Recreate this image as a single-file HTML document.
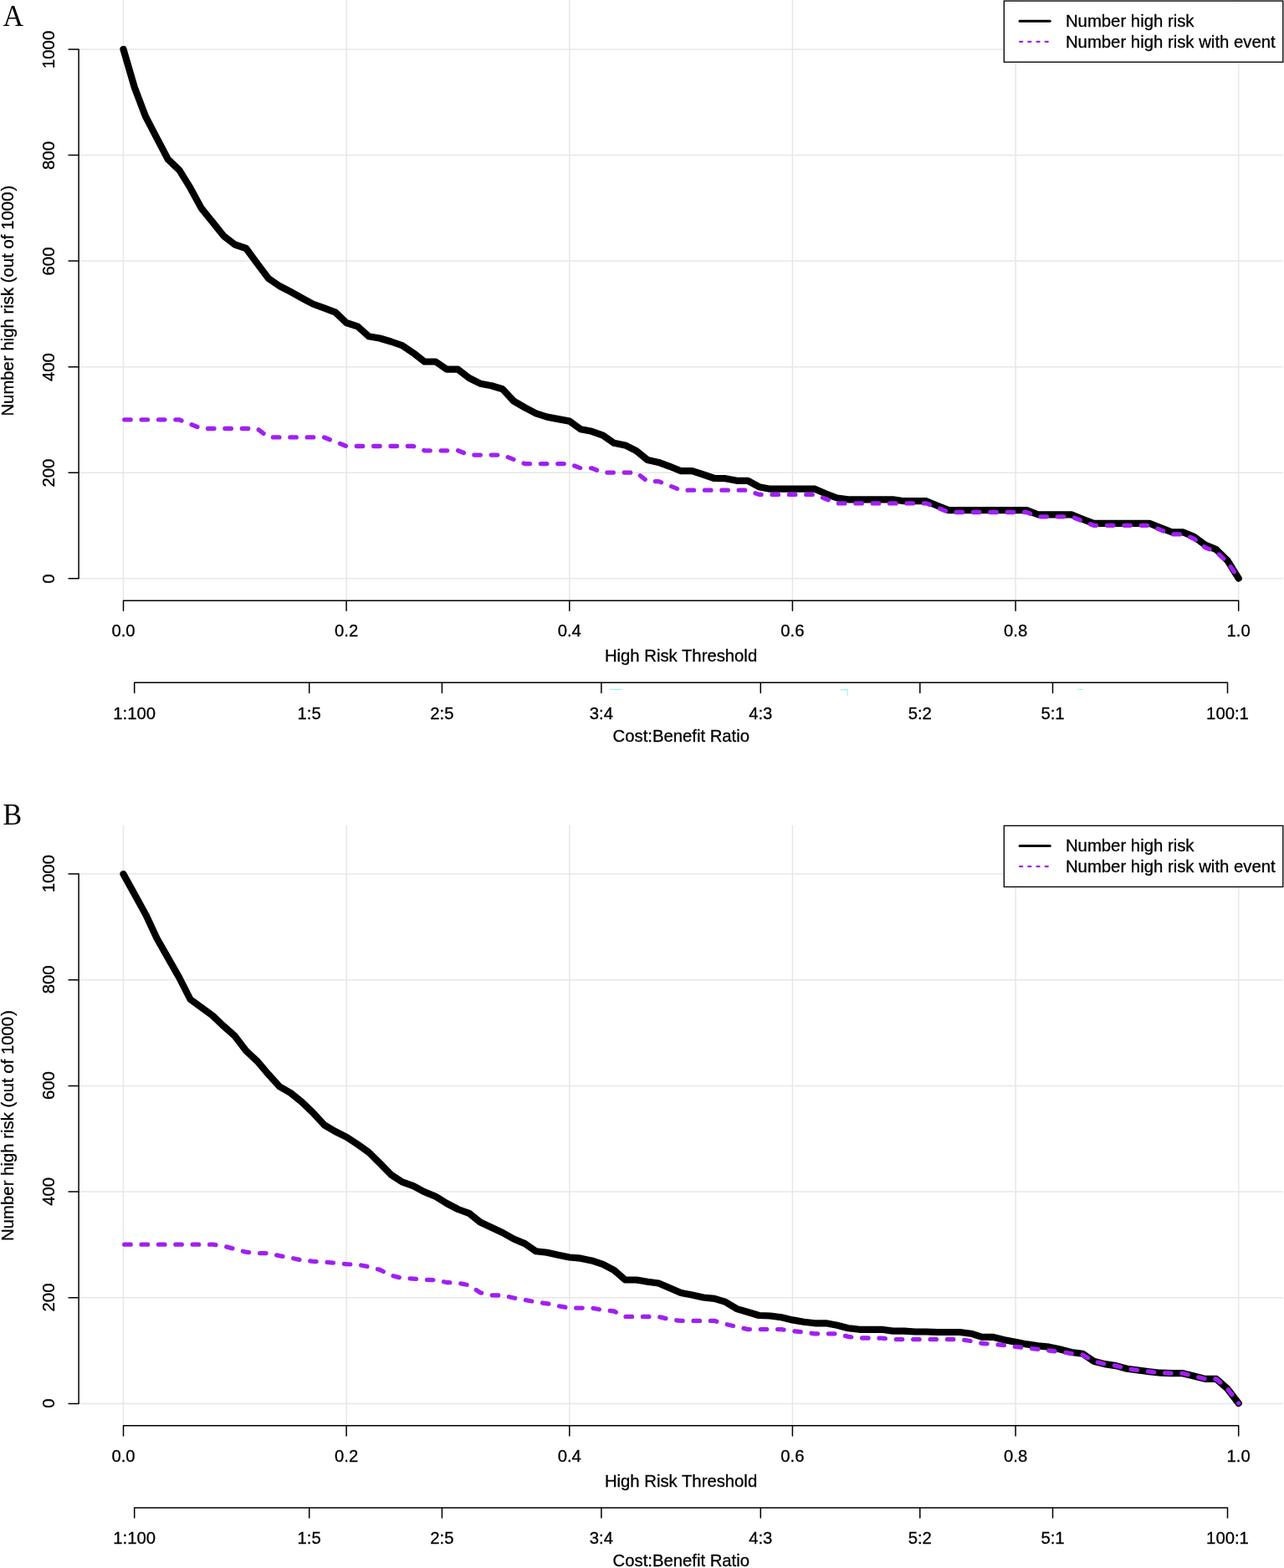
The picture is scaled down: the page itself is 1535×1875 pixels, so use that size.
<!DOCTYPE html>
<html lang="en">
<head>
<meta charset="utf-8">
<title>Clinical impact curves</title>
<style>
html,body{margin:0;padding:0;background:#fff;}
body{width:1535px;height:1875px;overflow:hidden;}
svg{display:block;}
.t{font-size:20.3px;}
.t text{font-family:"Liberation Sans",Arial,Helvetica,sans-serif;fill:#000;stroke:#000;stroke-width:0.3px;}
.p text{font-family:"Liberation Serif","Times New Roman",Times,serif;font-size:34px;fill:#000;}
</style>
</head>
<body>
<svg width="1535" height="1875" viewBox="0 0 1535 1875" role="img" aria-label="Clinical impact curves, panels A and B">
<rect width="1535" height="1875" fill="#fff"/>
<g stroke="#e7e7e7" stroke-width="1.5" fill="none"><line x1="147.5" y1="0.0" x2="147.5" y2="717.6"/><line x1="414.1" y1="0.0" x2="414.1" y2="717.6"/><line x1="680.8" y1="0.0" x2="680.8" y2="717.6"/><line x1="947.4" y1="0.0" x2="947.4" y2="717.6"/><line x1="1214.1" y1="0.0" x2="1214.1" y2="717.6"/><line x1="1480.7" y1="0.0" x2="1480.7" y2="717.6"/><line x1="94.2" y1="691.8" x2="1534" y2="691.8"/><line x1="94.2" y1="565.2" x2="1534" y2="565.2"/><line x1="94.2" y1="438.7" x2="1534" y2="438.7"/><line x1="94.2" y1="312.1" x2="1534" y2="312.1"/><line x1="94.2" y1="185.6" x2="1534" y2="185.6"/><line x1="94.2" y1="59.0" x2="1534" y2="59.0"/></g>
<polyline points="147.5,59.0 160.8,104.5 174.2,139.7 187.5,165.1 200.8,190.5 214.2,203.2 227.5,224.7 240.8,249.1 254.2,265.7 267.5,282.3 280.8,292.5 294.2,297.0 307.5,315.2 320.8,332.8 334.1,342.0 347.5,348.9 360.8,356.3 374.1,363.5 387.5,368.4 400.8,373.3 414.1,386.0 427.5,390.3 440.8,402.2 454.1,404.5 467.5,408.5 480.8,413.1 494.1,422.1 507.5,432.5 520.8,432.5 534.1,441.7 547.5,441.7 560.8,452.0 574.1,458.7 587.5,461.3 600.8,465.3 614.1,479.6 627.5,487.4 640.8,494.3 654.1,498.6 667.4,501.1 680.8,503.6 694.1,513.2 707.4,515.8 720.8,520.6 734.1,529.8 747.4,532.4 760.8,539.2 774.1,550.0 787.4,552.9 800.8,557.8 814.1,563.2 827.4,563.2 840.8,567.5 854.1,572.0 867.4,572.2 880.8,574.8 894.1,574.8 907.4,582.2 920.8,584.7 934.1,584.7 947.4,584.7 960.8,584.7 974.1,584.7 987.4,590.6 1000.7,595.5 1014.1,597.3 1027.4,597.3 1040.7,597.3 1054.1,597.3 1067.4,597.3 1080.7,599.2 1094.1,599.2 1107.4,599.2 1120.7,604.7 1134.1,610.1 1147.4,610.1 1160.7,610.1 1174.1,610.1 1187.4,610.1 1200.7,610.1 1214.1,610.1 1227.4,610.1 1240.7,615.3 1254.1,615.3 1267.4,615.3 1280.7,615.3 1294.1,620.7 1307.4,625.8 1320.7,625.8 1334.0,625.8 1347.4,625.8 1360.7,625.8 1374.0,625.8 1387.4,631.1 1400.7,636.3 1414.0,636.3 1427.4,641.8 1440.7,651.6 1454.0,657.1 1467.4,670.2 1480.7,691.6" fill="none" stroke="#000" stroke-width="8.2" stroke-linecap="round" stroke-linejoin="round"/>
<polyline points="147.5,501.8 160.8,501.8 174.2,501.8 187.5,501.8 200.8,501.8 214.2,501.8 227.5,507.1 240.8,512.5 254.2,512.5 267.5,512.5 280.8,512.5 294.2,512.5 307.5,512.5 320.8,522.9 334.1,522.9 347.5,522.9 360.8,522.9 374.1,522.9 387.5,522.9 400.8,528.3 414.1,533.5 427.5,533.5 440.8,533.5 454.1,533.5 467.5,533.5 480.8,533.5 494.1,533.5 507.5,538.8 520.8,538.8 534.1,538.8 547.5,538.8 560.8,544.1 574.1,544.1 587.5,544.1 600.8,544.1 614.1,549.4 627.5,554.6 640.8,554.6 654.1,554.6 667.4,554.6 680.8,554.6 694.1,559.8 707.4,559.8 720.8,565.1 734.1,565.1 747.4,565.1 760.8,565.1 774.1,575.6 787.4,575.6 800.8,580.9 814.1,586.2 827.4,586.2 840.8,586.2 854.1,586.2 867.4,586.2 880.8,586.2 894.1,586.2 907.4,591.4 920.8,591.4 934.1,591.4 947.4,591.4 960.8,591.4 974.1,591.4 987.4,596.7 1000.7,601.9 1014.1,601.9 1027.4,601.9 1040.7,601.9 1054.1,601.9 1067.4,601.9 1080.7,601.9 1094.1,601.9 1107.4,601.9 1120.7,607.2 1134.1,612.5 1147.4,612.5 1160.7,612.5 1174.1,612.5 1187.4,612.5 1200.7,612.5 1214.1,612.5 1227.4,612.5 1240.7,617.8 1254.1,617.8 1267.4,617.8 1280.7,617.8 1294.1,623.1 1307.4,628.3 1320.7,628.3 1334.0,628.3 1347.4,628.3 1360.7,628.3 1374.0,628.3 1387.4,633.6 1400.7,638.9 1414.0,638.9 1427.4,644.2 1440.7,654.7 1454.0,660.0 1467.4,672.0 1480.7,691.6" fill="none" stroke="#a020f0" stroke-width="5.3" stroke-linecap="round" stroke-linejoin="round" stroke-dasharray="7.4 12.975" stroke-dashoffset="-1.25"/>
<g stroke="#000" stroke-width="1.5" fill="none" stroke-linecap="round" stroke-linejoin="round"><path d="M82.1,59.0H94.1V691.8H82.1"/><path d="M82.1,565.2H94.1"/><path d="M82.1,438.7H94.1"/><path d="M82.1,312.1H94.1"/><path d="M82.1,185.6H94.1"/><path d="M147.5,730.3V718.2H1480.7V730.3M414.1,718.2v12.1M680.8,718.2v12.1M947.4,718.2v12.1M1214.1,718.2v12.1"/><path d="M160.7,828.4V816.3H1467.5V828.4M369.7,816.3v12.1M528.4,816.3v12.1M718.9,816.3v12.1M909.3,816.3v12.1M1099.8,816.3v12.1M1258.5,816.3v12.1"/></g>
<g class="t"><text x="147.5" y="761.4" text-anchor="middle">0.0</text><text x="414.1" y="761.4" text-anchor="middle">0.2</text><text x="680.8" y="761.4" text-anchor="middle">0.4</text><text x="947.4" y="761.4" text-anchor="middle">0.6</text><text x="1214.1" y="761.4" text-anchor="middle">0.8</text><text x="1480.7" y="761.4" text-anchor="middle">1.0</text><text x="814.05" y="791.0" text-anchor="middle">High Risk Threshold</text><text x="160.7" y="859.9" text-anchor="middle">1:100</text><text x="369.7" y="859.9" text-anchor="middle">1:5</text><text x="528.4" y="859.9" text-anchor="middle">2:5</text><text x="718.9" y="859.9" text-anchor="middle">3:4</text><text x="909.3" y="859.9" text-anchor="middle">4:3</text><text x="1099.8" y="859.9" text-anchor="middle">5:2</text><text x="1258.5" y="859.9" text-anchor="middle">5:1</text><text x="1467.5" y="859.9" text-anchor="middle">100:1</text><text x="814.3" y="887.0" text-anchor="middle">Cost:Benefit Ratio</text><text transform="translate(64.8,692.2) rotate(-90)" text-anchor="middle">0</text><text transform="translate(64.8,565.6) rotate(-90)" text-anchor="middle">200</text><text transform="translate(64.8,439.1) rotate(-90)" text-anchor="middle">400</text><text transform="translate(64.8,312.5) rotate(-90)" text-anchor="middle">600</text><text transform="translate(64.8,186.0) rotate(-90)" text-anchor="middle">800</text><text transform="translate(64.8,59.4) rotate(-90)" text-anchor="middle">1000</text><text transform="translate(16.1,497.6) rotate(-90)" style="letter-spacing:0.03px">Number high risk (out of 1000<tspan dx="1">)</tspan></text></g>
<rect x="1200.3" y="1.1" width="333.5" height="73.1" fill="#fff" stroke="#000" stroke-width="1.35"/>
<line x1="1219.1" y1="25.3" x2="1255.2" y2="25.3" stroke="#000" stroke-width="3" stroke-linecap="round"/>
<line x1="1219.1" y1="49.8" x2="1254" y2="49.8" stroke="#a020f0" stroke-width="2.3" stroke-linecap="round" stroke-dasharray="3.1 7.1"/>
<g class="t" style="font-size:20.34px"><text x="1273.9" y="32.0">Number high risk</text><text x="1273.9" y="56.7">Number high risk with event</text></g>
<g stroke="#9aefe8" stroke-width="1.1" fill="none"><path d="M729.2,824.4H743.6"/><path d="M1005,824.6H1013.2V832"/><path d="M1288.4,824.4H1294.6"/></g>
<g stroke="#e7e7e7" stroke-width="1.5" fill="none"><line x1="147.5" y1="987.1" x2="147.5" y2="1704.2"/><line x1="414.1" y1="987.1" x2="414.1" y2="1704.2"/><line x1="680.8" y1="987.1" x2="680.8" y2="1704.2"/><line x1="947.4" y1="987.1" x2="947.4" y2="1704.2"/><line x1="1214.1" y1="987.1" x2="1214.1" y2="1704.2"/><line x1="1480.7" y1="987.1" x2="1480.7" y2="1704.2"/><line x1="94.2" y1="1678.4" x2="1534" y2="1678.4"/><line x1="94.2" y1="1551.7" x2="1534" y2="1551.7"/><line x1="94.2" y1="1425.0" x2="1534" y2="1425.0"/><line x1="94.2" y1="1298.4" x2="1534" y2="1298.4"/><line x1="94.2" y1="1171.7" x2="1534" y2="1171.7"/><line x1="94.2" y1="1045.0" x2="1534" y2="1045.0"/></g>
<polyline points="147.5,1045.2 160.8,1069.2 174.2,1093.6 187.5,1122.0 200.8,1145.4 214.2,1168.9 227.5,1195.0 240.8,1204.7 254.2,1214.5 267.5,1227.2 280.8,1238.9 294.2,1256.5 307.5,1268.9 320.8,1284.6 334.1,1299.2 347.5,1307.0 360.8,1317.8 374.1,1330.5 387.5,1345.1 400.8,1353.0 414.1,1359.6 427.5,1368.4 440.8,1377.8 454.1,1391.0 467.5,1404.7 480.8,1413.4 494.1,1418.2 507.5,1425.3 520.8,1430.8 534.1,1439.0 547.5,1446.0 560.8,1450.8 574.1,1461.5 587.5,1467.8 600.8,1474.0 614.1,1481.5 627.5,1487.1 640.8,1496.3 654.1,1497.8 667.4,1500.8 680.8,1503.5 694.1,1504.7 707.4,1507.4 720.8,1511.9 734.1,1518.8 747.4,1530.5 760.8,1530.5 774.1,1532.8 787.4,1534.5 800.8,1540.3 814.1,1546.0 827.4,1548.5 840.8,1551.5 854.1,1552.8 867.4,1556.9 880.8,1565.1 894.1,1569.0 907.4,1573.0 920.8,1573.5 934.1,1575.3 947.4,1578.4 960.8,1580.8 974.1,1582.3 987.4,1582.3 1000.7,1584.8 1014.1,1588.2 1027.4,1589.8 1040.7,1589.8 1054.1,1589.8 1067.4,1591.6 1080.7,1591.6 1094.1,1592.5 1107.4,1592.5 1120.7,1593.0 1134.1,1593.0 1147.4,1593.0 1160.7,1594.7 1174.1,1598.9 1187.4,1598.9 1200.7,1602.3 1214.1,1604.8 1227.4,1607.4 1240.7,1609.4 1254.1,1610.7 1267.4,1613.5 1280.7,1617.0 1294.1,1618.7 1307.4,1627.7 1320.7,1631.1 1334.0,1633.1 1347.4,1636.7 1360.7,1638.5 1374.0,1640.2 1387.4,1641.7 1400.7,1642.2 1414.0,1642.2 1427.4,1645.5 1440.7,1648.9 1454.0,1648.9 1467.4,1660.7 1480.7,1678.0" fill="none" stroke="#000" stroke-width="8.2" stroke-linecap="round" stroke-linejoin="round"/>
<polyline points="147.5,1488.2 160.8,1488.2 174.2,1488.2 187.5,1488.2 200.8,1488.2 214.2,1488.2 227.5,1488.2 240.8,1488.2 254.2,1488.2 267.5,1490.0 280.8,1493.7 294.2,1497.2 307.5,1498.6 320.8,1498.6 334.1,1501.7 347.5,1504.0 360.8,1507.0 374.1,1508.3 387.5,1509.2 400.8,1510.2 414.1,1511.6 427.5,1512.2 440.8,1514.8 454.1,1518.4 467.5,1525.1 480.8,1528.6 494.1,1529.1 507.5,1530.4 520.8,1530.6 534.1,1533.5 547.5,1534.2 560.8,1536.8 574.1,1545.7 587.5,1548.8 600.8,1549.1 614.1,1552.0 627.5,1554.5 640.8,1556.9 654.1,1558.8 667.4,1561.7 680.8,1564.1 694.1,1564.1 707.4,1564.1 720.8,1566.6 734.1,1568.0 747.4,1574.4 760.8,1574.4 774.1,1574.5 787.4,1574.5 800.8,1577.8 814.1,1579.4 827.4,1579.4 840.8,1579.4 854.1,1579.4 867.4,1583.3 880.8,1586.6 894.1,1589.6 907.4,1589.6 920.8,1589.6 934.1,1589.6 947.4,1591.5 960.8,1593.1 974.1,1594.8 987.4,1594.8 1000.7,1594.8 1014.1,1598.4 1027.4,1600.0 1040.7,1600.0 1054.1,1600.2 1067.4,1601.6 1080.7,1601.6 1094.1,1601.6 1107.4,1601.6 1120.7,1601.6 1134.1,1601.6 1147.4,1601.6 1160.7,1603.6 1174.1,1606.5 1187.4,1607.4 1200.7,1608.7 1214.1,1610.4 1227.4,1612.1 1240.7,1613.3 1254.1,1615.0 1267.4,1616.5 1280.7,1618.5 1294.1,1620.0 1307.4,1627.7 1320.7,1631.1 1334.0,1633.1 1347.4,1636.7 1360.7,1638.5 1374.0,1640.2 1387.4,1641.7 1400.7,1642.2 1414.0,1642.2 1427.4,1645.5 1440.7,1648.9 1454.0,1648.9 1467.4,1660.7 1480.7,1678.0" fill="none" stroke="#a020f0" stroke-width="5.3" stroke-linecap="round" stroke-linejoin="round" stroke-dasharray="7.4 12.975" stroke-dashoffset="-1.25"/>
<g stroke="#000" stroke-width="1.5" fill="none" stroke-linecap="round" stroke-linejoin="round"><path d="M82.1,1045.0H94.1V1678.4H82.1"/><path d="M82.1,1551.7H94.1"/><path d="M82.1,1425.0H94.1"/><path d="M82.1,1298.4H94.1"/><path d="M82.1,1171.7H94.1"/><path d="M147.5,1716.9V1704.8H1480.7V1716.9M414.1,1704.8v12.1M680.8,1704.8v12.1M947.4,1704.8v12.1M1214.1,1704.8v12.1"/><path d="M160.7,1815.0V1802.9H1467.5V1815.0M369.7,1802.9v12.1M528.4,1802.9v12.1M718.9,1802.9v12.1M909.3,1802.9v12.1M1099.8,1802.9v12.1M1258.5,1802.9v12.1"/></g>
<g class="t"><text x="147.5" y="1748.0" text-anchor="middle">0.0</text><text x="414.1" y="1748.0" text-anchor="middle">0.2</text><text x="680.8" y="1748.0" text-anchor="middle">0.4</text><text x="947.4" y="1748.0" text-anchor="middle">0.6</text><text x="1214.1" y="1748.0" text-anchor="middle">0.8</text><text x="1480.7" y="1748.0" text-anchor="middle">1.0</text><text x="814.05" y="1777.6" text-anchor="middle">High Risk Threshold</text><text x="160.7" y="1846.2" text-anchor="middle">1:100</text><text x="369.7" y="1846.2" text-anchor="middle">1:5</text><text x="528.4" y="1846.2" text-anchor="middle">2:5</text><text x="718.9" y="1846.2" text-anchor="middle">3:4</text><text x="909.3" y="1846.2" text-anchor="middle">4:3</text><text x="1099.8" y="1846.2" text-anchor="middle">5:2</text><text x="1258.5" y="1846.2" text-anchor="middle">5:1</text><text x="1467.5" y="1846.2" text-anchor="middle">100:1</text><text x="814.3" y="1872.9" text-anchor="middle">Cost:Benefit Ratio</text><text transform="translate(64.8,1678.2) rotate(-90)" text-anchor="middle">0</text><text transform="translate(64.8,1551.5) rotate(-90)" text-anchor="middle">200</text><text transform="translate(64.8,1424.8) rotate(-90)" text-anchor="middle">400</text><text transform="translate(64.8,1298.1) rotate(-90)" text-anchor="middle">600</text><text transform="translate(64.8,1171.4) rotate(-90)" text-anchor="middle">800</text><text transform="translate(64.8,1044.8) rotate(-90)" text-anchor="middle">1000</text><text transform="translate(16.1,1483.9) rotate(-90)" style="letter-spacing:0.03px">Number high risk (out of 1000<tspan dx="1">)</tspan></text></g>
<rect x="1200.3" y="987.4" width="333.5" height="73.1" fill="#fff" stroke="#000" stroke-width="1.35"/>
<line x1="1219.1" y1="1011.6" x2="1255.2" y2="1011.6" stroke="#000" stroke-width="3" stroke-linecap="round"/>
<line x1="1219.1" y1="1036.1" x2="1254" y2="1036.1" stroke="#a020f0" stroke-width="2.3" stroke-linecap="round" stroke-dasharray="3.1 7.1"/>
<g class="t" style="font-size:20.34px"><text x="1273.9" y="1018.3">Number high risk</text><text x="1273.9" y="1043.0">Number high risk with event</text></g>
<g class="p"><text transform="translate(3.6,30.8) scale(1,1.06)">A</text><text transform="translate(3.4,985.8) scale(1,1.045)">B</text></g>
</svg>
</body>
</html>
